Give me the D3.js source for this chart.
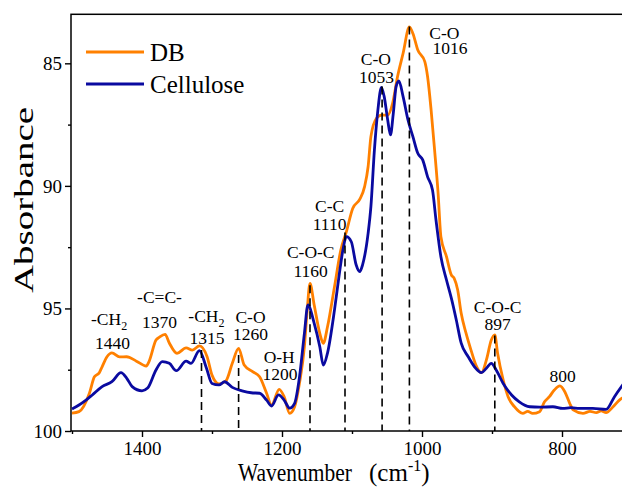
<!DOCTYPE html>
<html>
<head>
<meta charset="utf-8">
<script src="https://cdn.jsdelivr.net/npm/d3@7"></script>
<style>
  body { margin: 0; background: #fff; }
  svg { display: block; }
  svg text { font-family: "Liberation Serif", Tinos, "Times New Roman", Times, serif; }
</style>
</head>
<body>
<div id="chart"></div>
<script>
// FTIR spectra, wavenumber (cm-1) vs absorbance
const dbWn = [1500, 1490, 1475, 1468, 1461, 1457, 1450, 1443, 1432, 1422, 1408, 1394, 1390, 1380, 1375, 1367, 1361, 1350, 1337, 1328,
  1318, 1307, 1300, 1290, 1280, 1271, 1262, 1254, 1242, 1232, 1222, 1215, 1204, 1197, 1189, 1182, 1175, 1168, 1164, 1160,
  1154, 1146, 1141, 1135, 1125, 1116, 1108, 1099, 1089, 1082, 1077, 1073, 1065, 1058, 1049, 1042, 1035, 1027, 1018, 1013,
  1006, 996, 992, 987, 982, 977, 973, 965, 958, 954, 949, 944, 937, 930, 923, 915, 908, 901, 896, 892,
  884, 877, 868, 856, 849, 842, 832, 825, 818, 811, 803, 796, 789, 784, 770, 760, 751, 744, 737, 727, 718, 705];
const dbAbs = [99.27, 99.21, 98.45, 97.79, 97.62, 97.38, 96.97, 96.81, 96.98, 96.97, 97.15, 97.35, 97.17, 96.29, 96.17, 96.06, 96.41, 96.83, 96.61, 96.70,
  96.53, 96.97, 97.72, 98.08, 97.95, 97.24, 96.63, 97.31, 97.58, 97.79, 98.46, 98.94, 98.30, 98.60, 99.28, 99.01, 98.04, 96.56, 95.06, 93.98,
  94.86, 96.02, 96.42, 95.75, 94.11, 92.62, 91.87, 90.92, 90.55, 90.03, 89.22, 87.99, 87.24, 87.11, 87.11, 86.63, 85.55, 84.59, 83.51, 83.78,
  84.46, 84.93, 85.55, 86.90, 88.54, 90.30, 92.07, 92.89, 93.64, 93.77, 94.25, 95.20, 96.02, 96.70, 97.31, 97.62, 97.10, 96.29, 96.08, 96.83,
  97.92, 98.60, 99.01, 99.28, 99.20, 99.28, 99.21, 98.81, 98.60, 98.33, 98.16, 98.40, 98.87, 99.14, 99.28, 99.20, 99.25, 99.18, 99.25, 99.01, 98.74, 98.50];

const celWn = [1500, 1490, 1480, 1471, 1457, 1443, 1430, 1422, 1414, 1400, 1392, 1380, 1371, 1361, 1351, 1337, 1330, 1318, 1308, 1300,
  1290, 1282, 1271, 1257, 1244, 1232, 1222, 1215, 1205, 1197, 1189, 1182, 1175, 1168, 1163, 1154, 1146, 1141, 1135, 1125,
  1118, 1113, 1108, 1101, 1094, 1089, 1085, 1077, 1073, 1068, 1063, 1058, 1054, 1049, 1045, 1041, 1037, 1033, 1027, 1020,
  1013, 1006, 999, 992, 985, 980, 973, 965, 958, 951, 944, 934, 925, 915, 908, 901, 894, 884, 872, 861,
  846, 832, 813, 799, 787, 775, 756, 737, 725, 715, 705];
const celAbs = [99.10, 98.94, 98.74, 98.53, 98.19, 97.99, 97.62, 97.84, 98.19, 98.36, 98.25, 97.51, 97.17, 97.24, 97.54, 97.15, 97.24, 96.72, 97.43, 98.06,
  98.12, 97.99, 98.22, 98.36, 98.44, 98.46, 98.74, 98.98, 98.53, 98.74, 99.07, 98.87, 97.79, 96.02, 94.86, 95.61, 96.56, 97.31, 96.82, 95.06,
  93.57, 92.62, 92.07, 92.28, 93.23, 93.50, 93.23, 91.94, 90.85, 88.54, 86.90, 85.98, 86.36, 87.31, 87.92, 87.04, 85.95, 85.72, 86.36, 87.31,
  87.99, 88.67, 88.94, 89.63, 90.17, 91.39, 92.89, 93.84, 94.59, 95.47, 96.42, 96.97, 97.38, 97.62, 97.44, 97.24, 97.51, 98.06, 98.53, 98.81,
  99.01, 99.03, 99.01, 99.08, 99.05, 99.08, 99.08, 99.12, 98.60, 98.19, 97.80];

// assigned bands: dashed marker position and its top (absorbance)
const peakWn = [1315, 1262, 1160, 1110, 1057, 1018, 896];
const peakTop = [96.7, 96.9, 94.05, 91.9, 85.95, 83.5, 96.1];

// annotation text, anchored in data units (centre wavenumber, baseline absorbance of each line)
const bandName = ["-CH_2", "-C=C-", "-CH_2", "C-O", "O-H", "C-O-C", "C-C", "C-O", "C-O", "C-O-C", ""];
const bandNum = ["1440", "1370", "1315", "1260", "1200", "1160", "1110", "1053", "1016", "897", "800"];
const nameWn = [1447, 1375, 1308, 1245, 1204, 1159, 1132, 1066, 968, 892, 799];
const numWn = [1442, 1375, 1307, 1245, 1203, 1159, 1132, 1065, 960, 892, 799];
const nameAbs = [95.68, 94.78, 95.55, 95.60, 97.23, 92.94, 91.07, 85.07, 84.01, 95.19, null];
const numAbs = [96.66, 95.80, 96.47, 96.29, 97.92, 93.72, 91.80, 85.80, 84.62, 95.88, 98.0];

const seriesNames = ["DB", "Cellulose"];
const seriesColors = ["#FF8000", "#0A0AA0"];

const xTicks = [1400, 1200, 1000, 800];
const xMinor = [1500, 1300, 1100, 900, 700];
const yTicks = [85, 90, 95, 100];
const yMinor = [87.5, 92.5, 97.5];

const width = 622, height = 488;
const x = d3.scaleLinear().domain([1500, 700]).range([72, 632]);
const y = d3.scaleLinear().domain([83, 100]).range([14.3, 431]);

const svg = d3.select("#chart").append("svg")
  .attr("width", width)
  .attr("height", height);

svg.append("rect").attr("width", width).attr("height", height).attr("fill", "#fff");

// axes
const gx = svg.append("g").attr("transform", `translate(0,${y(100)})`)
  .call(d3.axisBottom(x).tickValues(xTicks).tickSize(6).tickFormat(d3.format("d")));
svg.append("g").attr("transform", `translate(0,${y(100)})`)
  .call(d3.axisBottom(x).tickValues(xMinor).tickSize(3).tickFormat(""));
const gy = svg.append("g").attr("transform", `translate(${x(1500) - 1},0)`)
  .call(d3.axisLeft(y).tickValues(yTicks).tickSize(6));
svg.append("g").attr("transform", `translate(${x(1500) - 1},0)`)
  .call(d3.axisLeft(y).tickValues(yMinor).tickSize(3).tickFormat(""));

svg.selectAll(".domain").remove();
svg.selectAll(".tick line").attr("stroke", "#000").attr("stroke-width", 1.4);
gx.attr("font-family", null).selectAll("text").attr("font-size", 19).attr("fill", "#000").attr("dy", null).attr("y", 24);
gy.attr("font-family", null).selectAll("text").attr("font-size", 19).attr("fill", "#000").attr("x", -9).attr("dy", "0.34em");

// frame
svg.append("rect")
  .attr("x", x(1500) - 1).attr("y", y(83))
  .attr("width", x(700) - x(1500) + 1).attr("height", y(100) - y(83))
  .attr("fill", "none").attr("stroke", "#000").attr("stroke-width", 1.5);

// curves
const line = d3.line().x(d => x(d[0])).y(d => y(d[1])).curve(d3.curveMonotoneX);
const series = [d3.zip(dbWn, dbAbs), d3.zip(celWn, celAbs)];
svg.append("g").selectAll("path")
  .data(series)
  .join("path")
    .attr("d", line)
    .attr("fill", "none")
    .attr("stroke", (d, i) => seriesColors[i])
    .attr("stroke-width", 2.8)
    .attr("stroke-linejoin", "round");

// dashed band markers
svg.append("g").selectAll("line")
  .data(peakWn)
  .join("line")
    .attr("x1", d => x(d)).attr("x2", d => x(d))
    .attr("y1", (d, i) => y(peakTop[i])).attr("y2", y(100))
    .attr("stroke", "#000").attr("stroke-width", 1.6)
    .attr("stroke-dasharray", "8,5");

// band labels
const ann = svg.append("g").attr("font-size", 17.5).attr("text-anchor", "middle").attr("fill", "#000");
bandNum.forEach((num, i) => {
  const name = bandName[i];
  if (name) {
    const t = ann.append("text").attr("x", x(nameWn[i])).attr("y", y(nameAbs[i]));
    const parts = name.split("_");
    t.append("tspan").text(parts[0]);
    if (parts[1]) t.append("tspan").attr("font-size", 12).attr("dy", 5).text(parts[1]);
  }
  ann.append("text").attr("x", x(numWn[i])).attr("y", y(numAbs[i])).text(num);
});

// legend
const leg = svg.append("g");
seriesNames.forEach((name, i) => {
  const ly = 52 + i * 32;
  leg.append("line").attr("x1", 86).attr("x2", 144).attr("y1", ly).attr("y2", ly)
    .attr("stroke", seriesColors[i]).attr("stroke-width", 2.8);
  leg.append("text").attr("x", 150).attr("y", ly + 9).attr("font-size", 25).text(name);
});

// axis titles
svg.append("text")
  .attr("transform", `translate(33,200) rotate(-90)`)
  .attr("text-anchor", "middle")
  .attr("font-size", 28)
  .attr("textLength", 186).attr("lengthAdjust", "spacingAndGlyphs")
  .text("Absorbance");

const xt = svg.append("text").attr("x", 238).attr("y", 481).attr("font-size", 25);
xt.append("tspan").attr("textLength", 114).attr("lengthAdjust", "spacingAndGlyphs").text("Wavenumber");
xt.append("tspan").attr("x", 369).text("(cm");
xt.append("tspan").attr("font-size", 16).attr("dy", -10).text("-1");
xt.append("tspan").attr("dy", 10).text(")");
</script>
</body>
</html>
